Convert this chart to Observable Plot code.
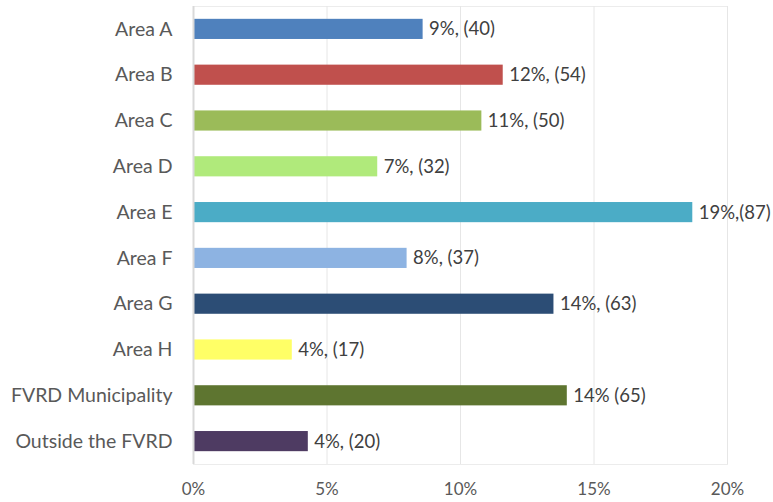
<!DOCTYPE html>
<html>
<head>
<meta charset="utf-8">
<script src="https://cdn.jsdelivr.net/npm/d3@7"></script>
<script src="https://cdn.jsdelivr.net/npm/@observablehq/plot@0.6"></script>
<style>
  html, body { margin: 0; padding: 0; background: #fff; }
  #chart { width: 773px; height: 502px; }
</style>
</head>
<body>
<div id="chart"></div>
<script>
const categories = ["Area A", "Area B", "Area C", "Area D", "Area E", "Area F", "Area G", "Area H", "FVRD Municipality", "Outside the FVRD"];
const percents = [8.6, 11.6, 10.8, 6.9, 18.7, 8.0, 13.5, 3.7, 14.0, 4.3];
const valueLabels = ["9%, (40)", "12%, (54)", "11%, (50)", "7%, (32)", "19%,(87)", "8%, (37)", "14%, (63)", "4%, (17)", "14% (65)", "4%, (20)"];
const colors = ["#4F81BD", "#C0504D", "#9BBB59", "#B0EA7B", "#4BACC6", "#8DB3E2", "#2C4D75", "#FFFF66", "#5E7530", "#4E3B62"];
const xTicks = [0, 5, 10, 15, 20];

const data = categories.map((c, i) => ({category: c, value: percents[i], label: valueLabels[i], color: colors[i]}));

const chart = Plot.plot({
  width: 773,
  height: 502,
  marginLeft: 193,
  marginRight: 46,
  marginTop: 6,
  marginBottom: 38,
  style: {fontFamily: "Lato, sans-serif", fontSize: "16px", color: "#595959", background: "#fff"},
  x: {domain: [0, 20], ticks: xTicks, tickFormat: d => d + "%", label: null},
  y: {domain: categories, paddingInner: 0.56, paddingOuter: 0.28, round: false, label: null},
  marks: [
    Plot.frame({stroke: "#ececec"}),
    Plot.gridX(xTicks, {stroke: "#e6e6e6", strokeOpacity: 1}),
    Plot.axisX({ticks: xTicks, tickFormat: d => d + "%", tickSize: 0, tickPadding: 18, fontSize: 17, fill: "#595959", label: null}),
    Plot.axisY({tickSize: 0, tickPadding: 21, fontSize: 19.5, fill: "#595959", label: null}),
    Plot.barX(data, {x: "value", y: "category", fill: "color"}),
    Plot.ruleX([0], {stroke: "#d9d9d9", strokeWidth: 2}),
    Plot.text(data, {x: "value", y: "category", text: "label", textAnchor: "start", dx: 6, fontSize: 18.5, fill: "#404040"})
  ]
});
document.getElementById("chart").appendChild(chart);
</script>
</body>
</html>
